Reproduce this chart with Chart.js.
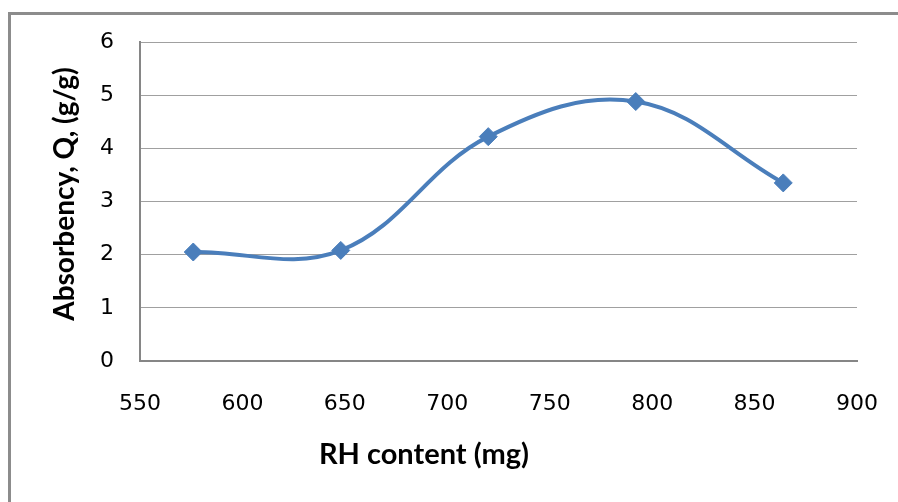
<!DOCTYPE html>
<html>
<head>
<meta charset="utf-8">
<script src="https://cdn.jsdelivr.net/npm/chart.js@4.4.0/dist/chart.umd.min.js"></script>
<style>
  html, body { margin: 0; padding: 0; background: #fff; overflow: hidden; }
  #wrap { position: relative; width: 898px; height: 502px; }
  #frame {
    position: absolute; left: 8px; top: 12px; width: 1000px; height: 600px;
    border-left: 3px solid #8c8c8c; border-top: 3px solid #8c8c8c;
  }
  canvas { position: absolute; left: 0; top: 0; }
</style>
</head>
<body>
<div id="wrap">
  <div id="frame"></div>
  <canvas id="chart" width="898" height="502"></canvas>
</div>
<script>
// RH content (mg) vs absorbency
const rhContent = [576, 648, 720, 792, 864];
const absorbency = [2.05, 2.08, 4.22, 4.88, 3.35];
const xTicks = [550, 600, 650, 700, 750, 800, 850, 900];
const yTicks = [0, 1, 2, 3, 4, 5, 6];

const xTitle = 'RH content (mg)';
const yTitle = 'Absorbency, Q, (g/g)';

const points = rhContent.map((x, i) => ({ x: x, y: absorbency[i] }));

// axis titles are off-centre in the original, so they are drawn by hand
const axisTitles = {
  id: 'axisTitles',
  afterDraw(chart) {
    const ctx = chart.ctx;
    ctx.save();
    ctx.fillStyle = '#000';
    ctx.textAlign = 'center';
    ctx.textBaseline = 'middle';
    ctx.font = 'bold 29px Lato';
    ctx.fillText(xTitle, 424, 455);
    ctx.translate(65, 194);
    ctx.rotate(-Math.PI / 2);
    ctx.font = 'bold 28px Lato';
    ctx.fillText(yTitle, 0, 0);
    ctx.restore();
  }
};

const ctx = document.getElementById('chart').getContext('2d');
new Chart(ctx, {
  type: 'line',
  data: {
    datasets: [{
      data: points,
      borderColor: '#4a7ebb',
      backgroundColor: '#4a7ebb',
      borderWidth: 4,
      tension: 0.38,
      pointStyle: 'rectRot',
      pointRadius: 9,
      pointBorderWidth: 1,
      pointBackgroundColor: '#4a7ebb',
      pointBorderColor: '#4a7ebb'
    }]
  },
  options: {
    responsive: false,
    animation: false,
    layout: { padding: { left: 0, top: 42, right: 41, bottom: 0 } },
    plugins: {
      legend: { display: false },
      tooltip: { enabled: false }
    },
    scales: {
      x: {
        type: 'linear',
        min: 550,
        max: 900,
        afterBuildTicks: scale => { scale.ticks = xTicks.map(v => ({ value: v })); },
        afterFit: scale => { scale.height = 141; },
        grid: {
          display: true,
          drawOnChartArea: false,
          drawTicks: true,
          tickLength: 28,
          tickColor: 'rgba(0,0,0,0)',
          color: 'rgba(0,0,0,0)'
        },
        border: { display: true, color: '#868686', width: 2 },
        ticks: {
          color: '#000',
          padding: 2,
          font: { family: 'DejaVu Sans', size: 22 }
        }
      },
      y: {
        min: 0,
        max: 6,
        afterBuildTicks: scale => { scale.ticks = yTicks.map(v => ({ value: v })); },
        afterFit: scale => { scale.width = 140; },
        grid: { color: '#a0a0a0', lineWidth: 1, drawTicks: false },
        border: { display: true, color: '#868686', width: 2 },
        ticks: {
          color: '#000',
          padding: 26,
          font: { family: 'DejaVu Sans', size: 22 }
        }
      }
    }
  },
  plugins: [axisTitles]
});
</script>
</body>
</html>
